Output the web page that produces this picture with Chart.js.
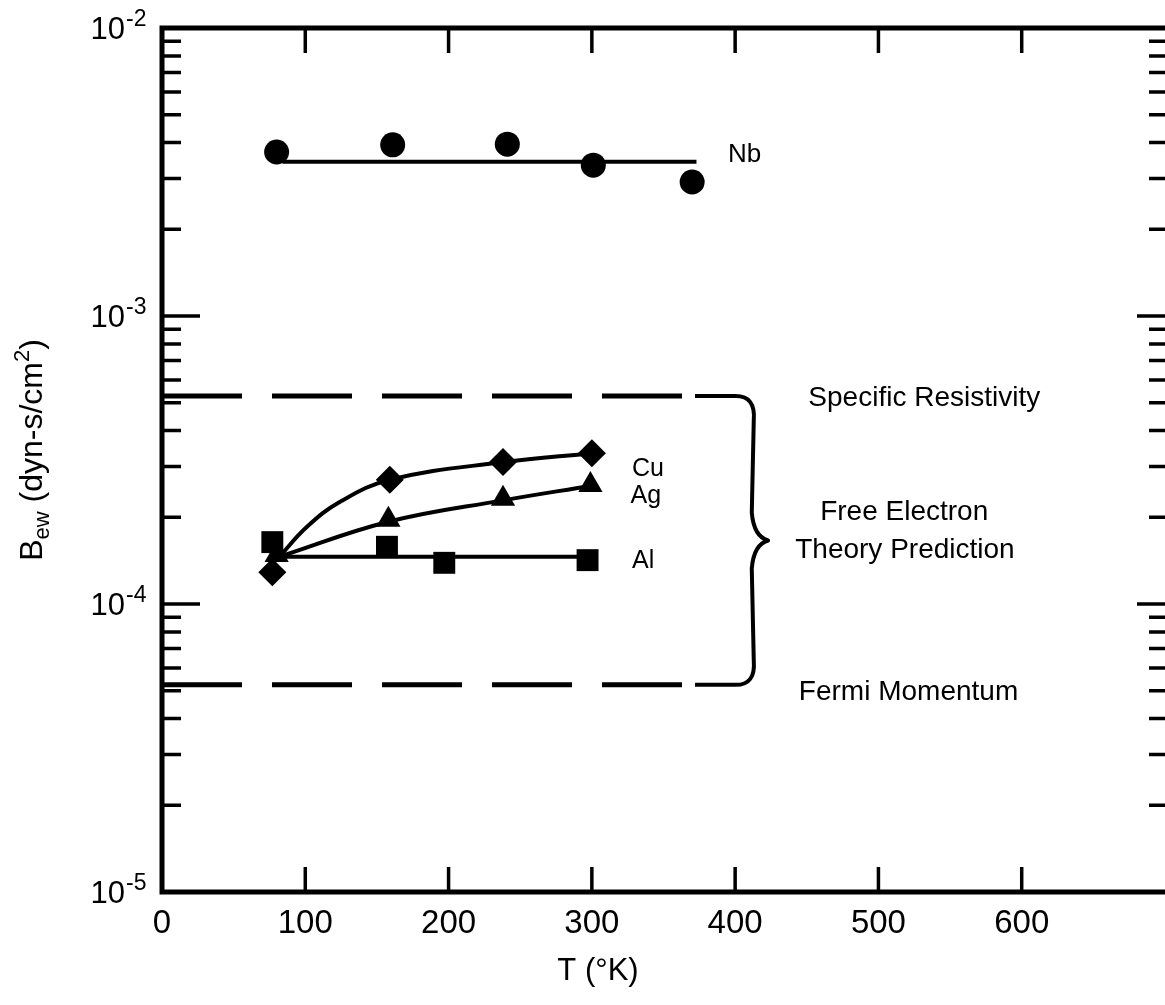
<!DOCTYPE html>
<html>
<head>
<meta charset="utf-8">
<title>Bew vs T</title>
<script src="https://cdn.jsdelivr.net/npm/chart.js@4.4.1/dist/chart.umd.min.js"></script>
<style>
  html, body { margin: 0; padding: 0; background: #fff; overflow: hidden; }
  #wrap { width: 1165px; height: 1005px; }
  canvas { display: block; }
</style>
</head>
<body>
<div id="wrap"><canvas id="chart" width="1165" height="1005"></canvas></div>
<script>
// measured points, T in K, Bew in dyn-s/cm2
const nbT = [80, 161, 241, 301, 370];
const nbB = [3.71e-3, 3.93e-3, 3.95e-3, 3.34e-3, 2.92e-3];
const nbFitT = [84, 373];
const nbFitB = [3.43e-3, 3.43e-3];

const cuT = [77, 159, 238, 300];
const cuB = [1.29e-4, 2.70e-4, 3.11e-4, 3.34e-4];
const cuFitT = [82, 101, 124, 159, 238, 300];
const cuFitB = [1.46e-4, 1.85e-4, 2.26e-4, 2.70e-4, 3.11e-4, 3.34e-4];

const agT = [80, 158, 238, 299];
const agB = [1.48e-4, 1.96e-4, 2.32e-4, 2.59e-4];
const agFitT = [82, 158, 238, 299];
const agFitB = [1.46e-4, 1.93e-4, 2.29e-4, 2.57e-4];

const alT = [77, 157, 197, 297];
const alB = [1.64e-4, 1.58e-4, 1.39e-4, 1.42e-4];
const alFitT = [82, 299];
const alFitB = [1.46e-4, 1.46e-4];

// free electron theory bounds
const boundT = [0, 363];
const resistivityB = [5.27e-4, 5.27e-4];
const fermiB = [5.24e-5, 5.24e-5];

// axis ticks
const xTickVals = [100, 200, 300, 400, 500, 600];
const decades = [1e-5, 1e-4, 1e-3, 1e-2];
const decadeExp = ['-5', '-4', '-3', '-2'];
const minorMult = [2, 3, 4, 5, 6, 7, 8, 9];

// text beside the curves
const notes = [
  { text: 'Nb', t: 395, b: 3.68e-3, align: 'left', size: 26 },
  { text: 'Cu', t: 328, b: 2.99e-4, align: 'left', size: 25 },
  { text: 'Ag', t: 327, b: 2.41e-4, align: 'left', size: 25 },
  { text: 'Al', t: 328, b: 1.43e-4, align: 'left', size: 25 },
  { text: 'Specific Resistivity', t: 532, b: 5.27e-4, align: 'center', size: 28 },
  { text: 'Free Electron', t: 518, b: 2.12e-4, align: 'center', size: 28 },
  { text: 'Theory Prediction', t: 518.5, b: 1.56e-4, align: 'center', size: 28 },
  { text: 'Fermi Momentum', t: 521, b: 5.03e-5, align: 'center', size: 28 }
];

// brace joining the two bounds
const braceStartT = 372;
const braceBarT = 413;
const braceTipT = 423;

const FONT = '"Liberation Sans", Arial, Helvetica, sans-serif';

function pts(ts, bs) {
  return ts.map((t, i) => ({ x: t, y: bs[i] }));
}

function markers(ts, bs, style, r) {
  return {
    data: pts(ts, bs),
    showLine: false,
    pointStyle: style,
    pointRadius: r,
    pointBackgroundColor: '#000',
    pointBorderColor: '#000',
    pointBorderWidth: 0
  };
}

function line(ts, bs, extra) {
  return Object.assign({
    data: pts(ts, bs),
    showLine: true,
    borderColor: '#000',
    borderWidth: 4,
    pointRadius: 0,
    fill: false
  }, extra || {});
}

const framePlugin = {
  id: 'frame',
  beforeDatasetsDraw(chart) {
    const ctx = chart.ctx;
    const a = chart.chartArea;
    const xs = chart.scales.x;
    const ys = chart.scales.y;
    ctx.save();
    ctx.strokeStyle = '#000';
    ctx.lineCap = 'butt';

    // ticks
    ctx.lineWidth = 3.5;
    ctx.beginPath();
    xTickVals.forEach(v => {
      const px = xs.getPixelForValue(v);
      ctx.moveTo(px, a.top);
      ctx.lineTo(px, a.top + 25);
      ctx.moveTo(px, a.bottom);
      ctx.lineTo(px, a.bottom - 25);
    });
    decades.forEach((d, i) => {
      if (i > 0 && i < decades.length - 1) {
        const py = ys.getPixelForValue(d);
        ctx.moveTo(a.left, py);
        ctx.lineTo(a.left + 38, py);
        ctx.moveTo(a.right, py);
        ctx.lineTo(a.right - 28, py);
      }
      if (i < decades.length - 1) {
        minorMult.forEach(m => {
          const py = ys.getPixelForValue(d * m);
          ctx.moveTo(a.left, py);
          ctx.lineTo(a.left + 19, py);
          ctx.moveTo(a.right, py);
          ctx.lineTo(a.right - 16, py);
        });
      }
    });
    ctx.stroke();

    // axes box
    ctx.lineWidth = 5;
    ctx.beginPath();
    ctx.moveTo(a.right, a.top);
    ctx.lineTo(a.left, a.top);
    ctx.lineTo(a.left, a.bottom);
    ctx.lineTo(a.right, a.bottom);
    ctx.stroke();

    // brace
    const yTop = ys.getPixelForValue(resistivityB[0]);
    const yBot = ys.getPixelForValue(fermiB[0]);
    const yMid = (yTop + yBot) / 2;
    const x0 = xs.getPixelForValue(braceStartT);
    const xb = xs.getPixelForValue(braceBarT);
    const xt = xs.getPixelForValue(braceTipT);
    ctx.lineWidth = 4;
    ctx.lineJoin = 'round';
    ctx.beginPath();
    ctx.moveTo(x0, yTop);
    ctx.lineTo(xb - 18, yTop);
    ctx.quadraticCurveTo(xb + 2, yTop, xb, yTop + 24);
    ctx.lineTo(xb - 2, yMid - 28);
    ctx.quadraticCurveTo(xb, yMid - 4, xt, yMid);
    ctx.quadraticCurveTo(xb, yMid + 4, xb - 2, yMid + 28);
    ctx.lineTo(xb, yBot - 24);
    ctx.quadraticCurveTo(xb + 2, yBot, xb - 18, yBot);
    ctx.lineTo(x0, yBot);
    ctx.stroke();
    ctx.restore();
  },
  afterDraw(chart) {
    const ctx = chart.ctx;
    const xs = chart.scales.x;
    const ys = chart.scales.y;
    ctx.save();
    ctx.fillStyle = '#000';

    // y tick labels: 10 with exponent
    decades.forEach((d, i) => {
      const py = ys.getPixelForValue(d);
      ctx.font = '31px ' + FONT;
      ctx.textAlign = 'right';
      ctx.textBaseline = 'alphabetic';
      ctx.fillText('10', 125, py + 11);
      ctx.font = '23px ' + FONT;
      ctx.textAlign = 'left';
      ctx.fillText(decadeExp[i], 126, py - 2);
    });

    // notes
    notes.forEach(n => {
      ctx.font = n.size + 'px ' + FONT;
      ctx.textAlign = n.align;
      ctx.textBaseline = 'alphabetic';
      ctx.fillText(n.text, xs.getPixelForValue(n.t), ys.getPixelForValue(n.b) + n.size * 0.36);
    });

    // x title
    ctx.font = '31px ' + FONT;
    ctx.textAlign = 'center';
    ctx.fillText('T (\u00B0K)', 598, 980);

    // y title, rotated, with subscript and superscript
    ctx.translate(42, 450);
    ctx.rotate(-Math.PI / 2);
    const big = '32px ' + FONT;
    const small = '22px ' + FONT;
    const parts = [
      { s: 'B', f: big, dy: 0 },
      { s: 'ew', f: small, dy: 7 },
      { s: ' (dyn-s/cm', f: big, dy: 0 },
      { s: '2', f: small, dy: -13 },
      { s: ')', f: big, dy: 0 }
    ];
    let total = 0;
    parts.forEach(p => { ctx.font = p.f; p.w = ctx.measureText(p.s).width; total += p.w; });
    let cx = -total / 2;
    ctx.textAlign = 'left';
    parts.forEach(p => {
      ctx.font = p.f;
      ctx.fillText(p.s, cx, p.dy);
      cx += p.w;
    });
    ctx.restore();
  }
};

const ctx = document.getElementById('chart').getContext('2d');
new Chart(ctx, {
  type: 'scatter',
  data: {
    datasets: [
      line(boundT, resistivityB, { borderWidth: 5, borderDash: [80, 30] }),
      line(boundT, fermiB, { borderWidth: 5, borderDash: [80, 30] }),
      line(nbFitT, nbFitB),
      markers(nbT, nbB, 'circle', 12.5),
      line(cuFitT, cuFitB, { tension: 0.4 }),
      markers(cuT, cuB, 'rectRot', 14),
      line(agFitT, agFitB, { tension: 0.4 }),
      markers(agT, agB, 'triangle', 14),
      line(alFitT, alFitB),
      markers(alT, alB, 'rect', 15.5)
    ]
  },
  options: {
    responsive: false,
    animation: false,
    devicePixelRatio: 1,
    layout: { autoPadding: false, padding: { top: 28, right: 0, left: 0, bottom: 0 } },
    plugins: {
      legend: { display: false },
      tooltip: { enabled: false }
    },
    scales: {
      x: {
        type: 'linear',
        min: 0,
        max: 700,
        grid: { display: false, drawTicks: false },
        border: { display: false },
        ticks: {
          stepSize: 100,
          padding: 12,
          color: '#000',
          font: { family: FONT, size: 33 },
          maxRotation: 0,
          callback: v => (v === 700 ? '' : v)
        },
        afterFit: s => {
          s.height = 113;
          s.paddingLeft = 0;
          s.paddingRight = 0;
        }
      },
      y: {
        type: 'logarithmic',
        min: 1e-5,
        max: 1e-2,
        grid: { display: false, drawTicks: false },
        border: { display: false },
        ticks: { display: false },
        afterFit: s => { s.width = 162; }
      }
    }
  },
  plugins: [framePlugin]
});
</script>
</body>
</html>
